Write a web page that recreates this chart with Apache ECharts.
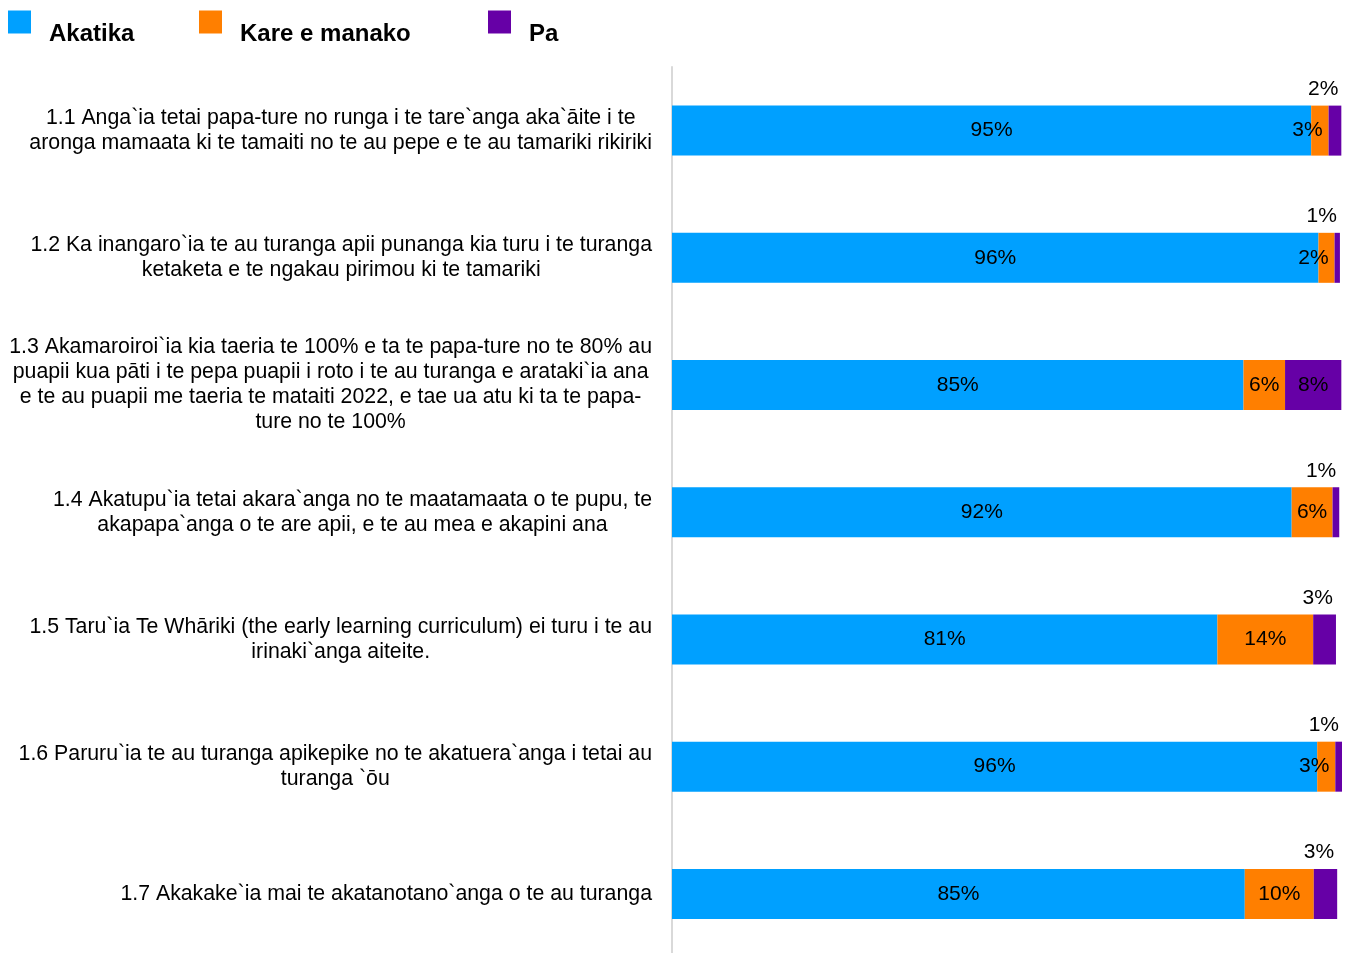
<!DOCTYPE html>
<html>
<head>
<meta charset="utf-8">
<title>Akatika / Kare e manako / Pa</title>
<script src="https://cdn.jsdelivr.net/npm/echarts@6/dist/echarts.min.js"></script>
<style>
  html, body { margin: 0; padding: 0; background: #fff; }
  #chart { width: 1350px; height: 953px; }
</style>
</head>
<body>
<div id="chart"></div>
<script>
// categories, one line per row of the original label
const categories = [
  ["1.1 Anga`ia tetai papa-ture no runga i te tare`anga aka`āite i te",
   "aronga mamaata ki te tamaiti no te au pepe e te au tamariki rikiriki"],
  ["1.2 Ka inangaro`ia te au turanga apii punanga kia turu i te turanga",
   "ketaketa e te ngakau pirimou ki te tamariki"],
  ["1.3 Akamaroiroi`ia kia taeria te 100% e ta te papa-ture no te 80% au",
   "puapii kua pāti i te pepa puapii i roto i te au turanga e arataki`ia ana",
   "e te au puapii me taeria te mataiti 2022, e tae ua atu ki ta te papa-",
   "ture no te 100%"],
  ["1.4 Akatupu`ia tetai akara`anga no te maatamaata o te pupu, te",
   "akapapa`anga o te are apii, e te au mea e akapini ana"],
  ["1.5 Taru`ia Te Whāriki (the early learning curriculum) ei turu i te au",
   "irinaki`anga aiteite."],
  ["1.6 Paruru`ia te au turanga apikepike no te akatuera`anga i tetai au",
   "turanga `ōu"],
  ["1.7 Akakake`ia mai te akatanotano`anga o te au turanga"]
];

const seriesNames = ["Akatika", "Kare e manako", "Pa"];

// percentages
const akatika = [95.4, 96.49, 85.3, 92.49, 81.4, 96.3, 85.49];
const kareEManako = [2.6, 2.4, 6.2, 6.1, 14.3, 2.7, 10.3];
const pa = [1.9, 0.8, 8.4, 1.0, 3.4, 1.0, 3.49];

const colors = ["#00a0ff", "#ff7f00", "#6600a6"];

const chart = echarts.init(document.getElementById("chart"));

const pct = v => Math.round(v) + "%";
const FONT = "Liberation Sans, Arial, sans-serif";
const labelFont = { fontFamily: FONT, fontSize: 21, color: "#000" };

function legendAt(name, left) {
  return {
    data: [name],
    left: left,
    top: -2,
    padding: 0,
    itemWidth: 23,
    itemHeight: 23,
    itemGap: 0,
    icon: "rect",
    // text sits lower than the marker, as in the original
    formatter: n => "\n" + n,
    textStyle: {
      fontFamily: FONT,
      fontSize: 24,
      fontWeight: "bold",
      color: "#000",
      lineHeight: 24,
      padding: [0, 0, 0, 13]
    }
  };
}

const option = {
  animation: false,
  color: colors,
  legend: [legendAt(seriesNames[0], 8), legendAt(seriesNames[1], 199), legendAt(seriesNames[2], 488)],
  grid: { left: 672, right: 8, top: 67, height: 890.5, outerBoundsMode: "none" },
  xAxis: {
    type: "value",
    min: 0,
    max: 100,
    show: false
  },
  yAxis: {
    type: "category",
    inverse: true,
    data: categories.map(lines => lines.map(l => "{c|" + l + "}").join("\n")),
    axisTick: { show: false },
    axisLine: { show: true, lineStyle: { color: "#d9d9d9", width: 2 } },
    axisLabel: {
      margin: 20,
      align: "right",
      fontFamily: FONT,
      fontSize: 21.3,
      color: "#000",
      lineHeight: 25,
      rich: {
        c: { align: "center", fontSize: 21.3, lineHeight: 25, color: "#000", fontFamily: FONT }
      }
    }
  },
  series: [
    {
      name: seriesNames[0],
      type: "bar",
      stack: "total",
      barWidth: 50,
      data: akatika,
      label: Object.assign({ show: true, position: "inside", formatter: p => pct(p.value) }, labelFont)
    },
    {
      name: seriesNames[1],
      type: "bar",
      stack: "total",
      barWidth: 50,
      data: kareEManako.map(v => v < 4
        ? { value: v, label: { position: "insideRight", distance: 6 } }
        : v),
      label: Object.assign({ show: true, position: "inside", formatter: p => pct(p.value) }, labelFont)
    },
    {
      name: seriesNames[2],
      type: "bar",
      stack: "total",
      barWidth: 50,
      data: pa.map(v => v < 5
        ? { value: v, label: { position: ["100%", 0], align: "right", verticalAlign: "bottom", offset: [-3, -6] } }
        : v),
      label: Object.assign({ show: true, position: "inside", formatter: p => pct(p.value) }, labelFont)
    }
  ]
};

chart.setOption(option);
</script>
</body>
</html>
